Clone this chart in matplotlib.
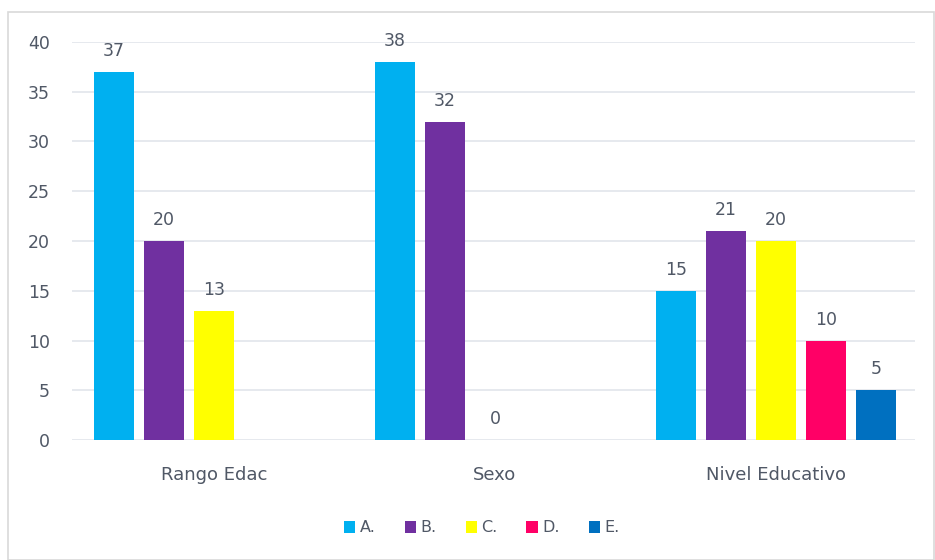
import matplotlib.pyplot as plt
import numpy as np
from matplotlib.patches import Rectangle

categories = ['Rango Edac', 'Sexo', 'Nivel Educativo']
series = ['A.', 'B.', 'C.', 'D.', 'E.']
A = [37, 38, 15]
B = [20, 32, 21]
C = [13, 0, 20]
D = [np.nan, np.nan, 10]
E = [np.nan, np.nan, 5]
colors = ['#00B0F0', '#7030A0', '#FFFF00', '#FF0066', '#0070C0']
txt = '#505866'

plt.rcParams['font.family'] = ['DejaVu Sans']

fig = plt.figure(figsize=(9.35, 5.6), dpi=100)
fig.patches.append(Rectangle((8/935, 0), 1 - 8/935 - 1/935, 1 - 12/560,
                             transform=fig.transFigure, fill=False,
                             edgecolor='#D9D9D9', linewidth=1.2))
ax = fig.add_axes([72/935, 1 - 440/560, (915 - 72)/935, 398/560])

x = np.arange(len(categories))
w = 40/281
step = 50/281
for i, (vals, name) in enumerate(zip([A, B, C, D, E], series)):
    pos = x + (i - 2)*step
    ax.bar(pos, vals, width=w, color=colors[i], label=name, zorder=3)
    for p, v in zip(pos, vals):
        if not np.isnan(v):
            ax.text(p, v + 1.2, f'{v:g}', ha='center', va='bottom',
                    fontsize=12.5, color=txt)

ax.set_xlim(-0.505, 2.495)
ax.set_ylim(0, 40)
ax.set_yticks(range(0, 41, 5))
ax.yaxis.grid(True, color='#E2E5EB', linewidth=1.2, zorder=0)
ax.set_xticks(x)
ax.set_xticklabels(categories)
ax.tick_params(axis='y', length=0, labelsize=12.5, labelcolor=txt, pad=16)
ax.tick_params(axis='x', length=0, labelsize=13, labelcolor=txt, pad=19)
for s in ax.spines.values():
    s.set_visible(False)

ax.legend(loc='center', bbox_to_anchor=(482/935, 1 - 528/560),
          bbox_transform=fig.transFigure, ncol=5, frameon=False,
          fontsize=11.5, handlelength=0.7, handleheight=0.7,
          handletextpad=0.3, columnspacing=1.8, labelcolor=txt)

fig.savefig('out.png', dpi=100)
